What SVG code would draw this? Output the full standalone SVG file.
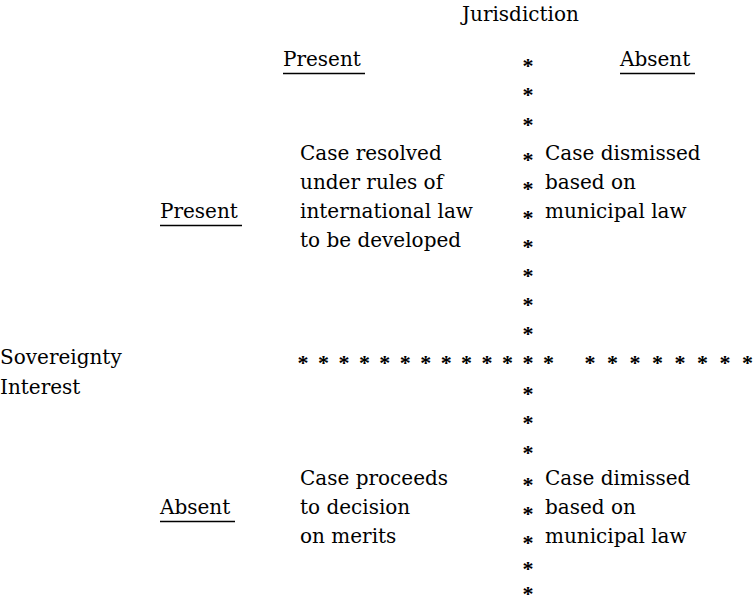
<svg xmlns="http://www.w3.org/2000/svg" width="754" height="605" viewBox="0 0 754 605">
<style>
.t{font-family:"DejaVu Serif","Liberation Serif",serif;font-size:20px;fill:#000}
.a{font-family:"Liberation Serif",serif;font-size:22px;fill:#000;text-anchor:middle;font-weight:bold}
.u{stroke:#000;stroke-width:1.6}
</style>
<rect width="754" height="605" fill="#fff"/>
<g id="header">
<text class="t" x="462" y="21">Jurisdiction</text>
<text class="t" x="283" y="66">Present</text>
<line class="u" x1="283" y1="73.5" x2="365" y2="73.5"/>
<text class="t" x="620" y="66">Absent</text>
<line class="u" x1="620" y1="73.5" x2="695" y2="73.5"/>
</g>
<g id="row-labels">
<text class="t" x="0" y="364">Sovereignty</text>
<text class="t" x="0" y="394">Interest</text>
<text class="t" x="160" y="218">Present</text>
<line class="u" x1="160" y1="225.5" x2="242" y2="225.5"/>
<text class="t" x="160" y="514">Absent</text>
<line class="u" x1="160" y1="521.5" x2="235" y2="521.5"/>
</g>
<g id="cell-present-present">
<text class="t" x="300" y="160">Case resolved</text>
<text class="t" x="300" y="189">under rules of</text>
<text class="t" x="300" y="218">international law</text>
<text class="t" x="300" y="247">to be developed</text>
</g>
<g id="cell-present-absent">
<text class="t" x="545" y="160">Case dismissed</text>
<text class="t" x="545" y="189">based on</text>
<text class="t" x="545" y="218">municipal law</text>
</g>
<g id="cell-absent-present">
<text class="t" x="300" y="485">Case proceeds</text>
<text class="t" x="300" y="514">to decision</text>
<text class="t" x="300" y="543">on merits</text>
</g>
<g id="cell-absent-absent">
<text class="t" x="545" y="485">Case dimissed</text>
<text class="t" x="545" y="514">based on</text>
<text class="t" x="545" y="543">municipal law</text>
</g>
<g id="connectors">
<g id="vertical-divider">
<text class="a" x="528" y="73">*</text>
<text class="a" x="528" y="102">*</text>
<text class="a" x="528" y="132">*</text>
<text class="a" x="528" y="167">*</text>
<text class="a" x="528" y="196">*</text>
<text class="a" x="528" y="225">*</text>
<text class="a" x="528" y="254">*</text>
<text class="a" x="528" y="283">*</text>
<text class="a" x="528" y="312">*</text>
<text class="a" x="528" y="341">*</text>
<text class="a" x="528" y="401">*</text>
<text class="a" x="528" y="430">*</text>
<text class="a" x="528" y="460">*</text>
<text class="a" x="528" y="492">*</text>
<text class="a" x="528" y="521">*</text>
<text class="a" x="528" y="550">*</text>
<text class="a" x="528" y="576">*</text>
<text class="a" x="528" y="601">*</text>
</g>
<g id="horizontal-divider">
<text class="a" x="303" y="370">*</text>
<text class="a" x="323.5" y="370">*</text>
<text class="a" x="343.9" y="370">*</text>
<text class="a" x="364.4" y="370">*</text>
<text class="a" x="384.8" y="370">*</text>
<text class="a" x="405.3" y="370">*</text>
<text class="a" x="425.7" y="370">*</text>
<text class="a" x="446.2" y="370">*</text>
<text class="a" x="466.6" y="370">*</text>
<text class="a" x="487.1" y="370">*</text>
<text class="a" x="507.5" y="370">*</text>
<text class="a" x="528" y="370">*</text>
<text class="a" x="548.5" y="370">*</text>
<text class="a" x="590" y="370">*</text>
<text class="a" x="612.5" y="370">*</text>
<text class="a" x="635" y="370">*</text>
<text class="a" x="657.5" y="370">*</text>
<text class="a" x="680" y="370">*</text>
<text class="a" x="702.5" y="370">*</text>
<text class="a" x="725" y="370">*</text>
<text class="a" x="747.5" y="370">*</text>
</g>
</g>
</svg>
